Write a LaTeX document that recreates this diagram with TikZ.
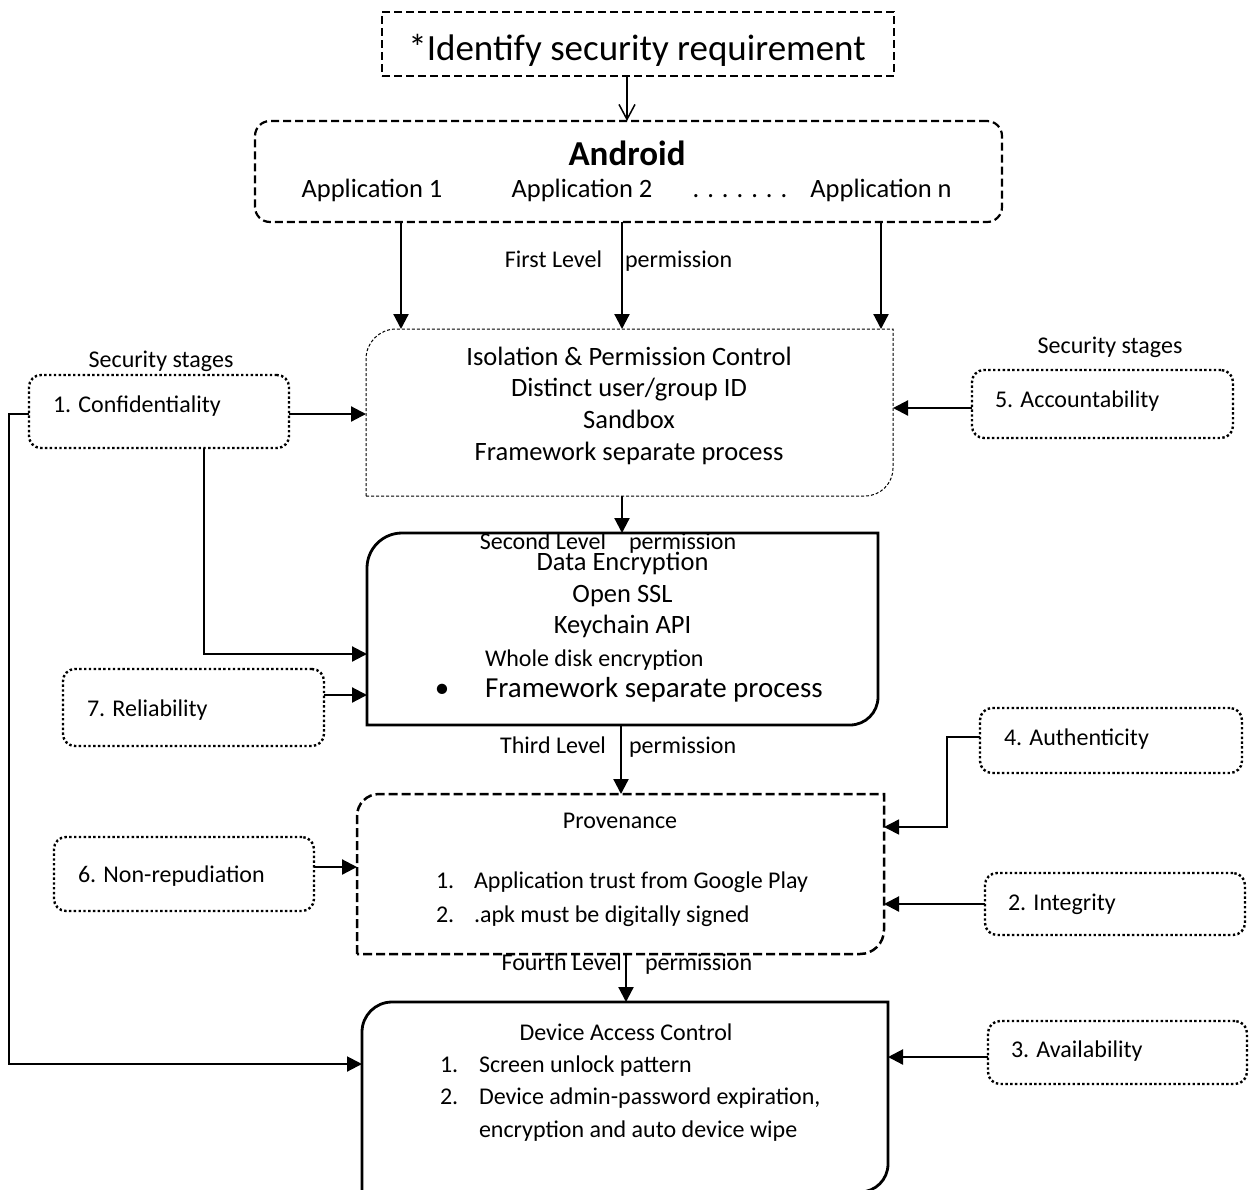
\documentclass[tikz,border=0pt]{standalone}
\usepackage{fontspec}
\setmainfont{Carlito}
\usetikzlibrary{arrows.meta,calc}
\newcommand\dboxoutline[4]{%
 \draw[#4] (#1.south west) -- ([yshift=-#2pt]#1.north west)
   .. controls ([yshift=-0.448*#2pt]#1.north west) and ([xshift=0.448*#2pt]#1.north west) ..
   ([xshift=#2pt]#1.north west) -- (#1.north east) -- ([yshift=#3pt]#1.south east)
   .. controls ([yshift=0.448*#3pt]#1.south east) and ([xshift=-0.448*#3pt]#1.south east) ..
   ([xshift=-#3pt]#1.south east) -- cycle;}
\begin{document}
\begin{tikzpicture}[x=1pt,y=-1pt,
 every node/.style={inner sep=0pt,outer sep=0pt},
 area/.style={anchor=north west,inner sep=0pt,outer sep=0pt,draw=none},
 stage/.style={anchor=north west,draw,line width=2.4pt,dash pattern=on 2.4pt off 2.4pt,rounded corners=12pt},
 txt/.style={font=\fontsize{24}{28}\selectfont},
 midtxt/.style={font=\fontsize{26.5}{30}\selectfont},
 bigtxt/.style={font=\fontsize{29}{34}\selectfont},
 conn/.style={line width=2.2pt,-{Triangle[length=15pt,width=15pt]}},
]
\useasboundingbox (0,0) rectangle (1249,1189);

% ---- title
\node[area,draw,line width=2pt,dash pattern=on 8pt off 4pt,minimum width=512pt,minimum height=64pt] (title) at (382,12) {};
\node[font=\fontsize{37}{44}\selectfont,anchor=base] (titletext) at (637,60) {*Identify security requirement};

% ---- android
\node[area,draw,line width=2.2pt,dash pattern=on 8pt off 4pt,rounded corners=15pt,minimum width=747pt,minimum height=101pt] (android) at (255,121) {};
\node[font=\bfseries\fontsize{35}{40}\selectfont,anchor=base] (andt) at (627,165) {Android};
\node[midtxt,anchor=base] (app1) at (372,197) {Application 1};
\node[midtxt,anchor=base] (app2) at (582,197) {Application 2};
\node[midtxt,anchor=base] (dots) at (740,197) {. . . . . . .};
\node[midtxt,anchor=base] (appn) at (881,197) {Application n};

\draw[line width=1.5pt,-{Straight Barb[length=15pt,width=16pt]}] ([xshift=-11pt]title.south) -- ([xshift=-11pt]title.south |- android.north);

% ---- main boxes
\node[area,minimum width=527pt,minimum height=167pt] (iso) at (366,329) {};
\dboxoutline{iso}{30}{28}{line width=1pt,dash pattern=on 3pt off 2pt}
\node[area,minimum width=511pt,minimum height=192pt] (data) at (367,533) {};
\dboxoutline{data}{35}{28}{line width=2.8pt}
\node[area,minimum width=527pt,minimum height=160pt] (prov) at (357,794) {};
\dboxoutline{prov}{22}{24}{line width=2.5pt,dash pattern=on 9pt off 4pt}
\node[area,minimum width=526pt,minimum height=190pt] (device) at (362,1002) {};
\dboxoutline{device}{30}{28}{line width=2.8pt}

% ---- texts in main boxes
\node[midtxt,anchor=base] (iso1) at (629,365) {Isolation \& Permission Control};
\node[midtxt,anchor=base] (iso2) at (629,396) {Distinct user/group ID};
\node[midtxt,anchor=base] (iso3) at (629,428) {Sandbox};
\node[midtxt,anchor=base] (iso4) at (629,460) {Framework separate process};

\node[midtxt,anchor=base] (d1) at (622.5,570) {Data Encryption};
\node[midtxt,anchor=base] (d2) at (622.5,602) {Open SSL};
\node[midtxt,anchor=base] (d3) at (622.5,633) {Keychain API};
\node[txt,anchor=base west] (d4) at (485,666) {Whole disk encryption};
\node[bigtxt,anchor=base] (dbul) at (442,697) {\textbullet};
\node[bigtxt,anchor=base west] (d5) at (485,697) {Framework separate process};

\node[txt,anchor=base] (p0) at (620,828) {Provenance};
\node[txt,anchor=base west] (p1n) at (436,888) {1.};
\node[txt,anchor=base west] (p1) at (474,888) {Application trust from Google Play};
\node[txt,anchor=base west] (p2n) at (436,922) {2.};
\node[txt,anchor=base west] (p2) at (474,922) {.apk must be digitally signed};

\node[txt,anchor=base] (v0) at (626,1040) {Device Access Control};
\node[txt,anchor=base west] (v1n) at (440,1072) {1.};
\node[txt,anchor=base west] (v1) at (479,1072) {Screen unlock pattern};
\node[txt,anchor=base west] (v2n) at (440,1104) {2.};
\node[txt,anchor=base west] (v2) at (479,1104) {Device admin-password expiration,};
\node[txt,anchor=base west] (v3) at (479,1137) {encryption and auto device wipe};

% ---- level labels
\node[txt,anchor=base east] (l1a) at (602,267) {First Level};
\node[txt,anchor=base west] (l1b) at (625,267) {permission};
\node[txt,anchor=base east] (l2a) at (606,549) {Second Level};
\node[txt,anchor=base west] (l2b) at (629,549) {permission};
\node[txt,anchor=base east] (l3a) at (606,753) {Third Level};
\node[txt,anchor=base west] (l3b) at (629,753) {permission};
\node[txt,anchor=base east] (l4a) at (622,970) {Fourth Level};
\node[txt,anchor=base west] (l4b) at (645,970) {permission};

% ---- level arrows
\foreach \dx in {-227.5,-6.5,252.5}
  \draw[conn] ([xshift=\dx pt]android.south) -- ([xshift=\dx pt]android.south |- iso.north);
\draw[conn] ([xshift=-7.5pt]iso.south) -- ([xshift=-7.5pt]iso.south |- data.north);
\draw[conn] ([xshift=-1.5pt]data.south) -- ([xshift=-1.5pt]data.south |- prov.north);
\draw[conn] ([xshift=5.5pt]prov.south) -- ([xshift=5.5pt]prov.south |- device.north);

% ---- security stages
\node[txt,anchor=base] (ssl) at (161,367) {Security stages};
\node[txt,anchor=base] (ssr) at (1110,353) {Security stages};

\node[stage,minimum width=260pt,minimum height=73pt] (conf) at (29,375) {};
\node[txt,anchor=base west] (conft) at (53,412) {1. Confidentiality};
\node[stage,minimum width=261pt,minimum height=77pt] (rel) at (63,669) {};
\node[txt,anchor=base west] (relt) at (87,716) {7. Reliability};
\node[stage,minimum width=260pt,minimum height=74pt] (nonrep) at (54,837) {};
\node[txt,anchor=base west] (nonrept) at (78,882) {6. Non-repudiation};
\node[stage,minimum width=261pt,minimum height=68pt] (acc) at (972,370) {};
\node[txt,anchor=base west] (acct) at (995,407) {5. Accountability};
\node[stage,minimum width=262pt,minimum height=65pt] (auth) at (980,708) {};
\node[txt,anchor=base west] (autht) at (1004,745) {4. Authenticity};
\node[stage,minimum width=260pt,minimum height=62pt] (integ) at (985,873) {};
\node[txt,anchor=base west] (integt) at (1008,910) {2. Integrity};
\node[stage,minimum width=259pt,minimum height=63pt] (avail) at (988,1021) {};
\node[txt,anchor=base west] (availt) at (1011,1057) {3. Availability};

% ---- stage connectors
\draw[conn] ([yshift=-2.5pt]conf.east) -- ([yshift=-2.5pt]conf.east -| iso.west);
\draw[conn] ([xshift=45pt]conf.south) |- ([yshift=-25pt]data.west);
\draw[conn,line width=2pt] ([yshift=-2.5pt]conf.west) -- ++(-20pt,0) |- ([yshift=33pt]device.west);
\draw[conn] ([yshift=12.5pt]rel.east) -- ([yshift=12.5pt]rel.east -| data.west);
\draw[conn] ([yshift=7pt]nonrep.east) -- ([yshift=7pt]nonrep.east -| prov.west);
\draw[conn] ([yshift=-4pt]acc.west) -- ([yshift=-4pt]acc.west -| iso.east);
\draw[conn,line width=1.6pt] ([yshift=3.5pt]auth.west) -- ++(-33pt,0) |- ([yshift=47pt]prov.east);
\draw[conn] (integ.west) -- (integ.west -| prov.east);
\draw[conn] ([yshift=-4.5pt]avail.west) -- ([yshift=-4.5pt]avail.west -| device.east);
\end{tikzpicture}
\end{document}
